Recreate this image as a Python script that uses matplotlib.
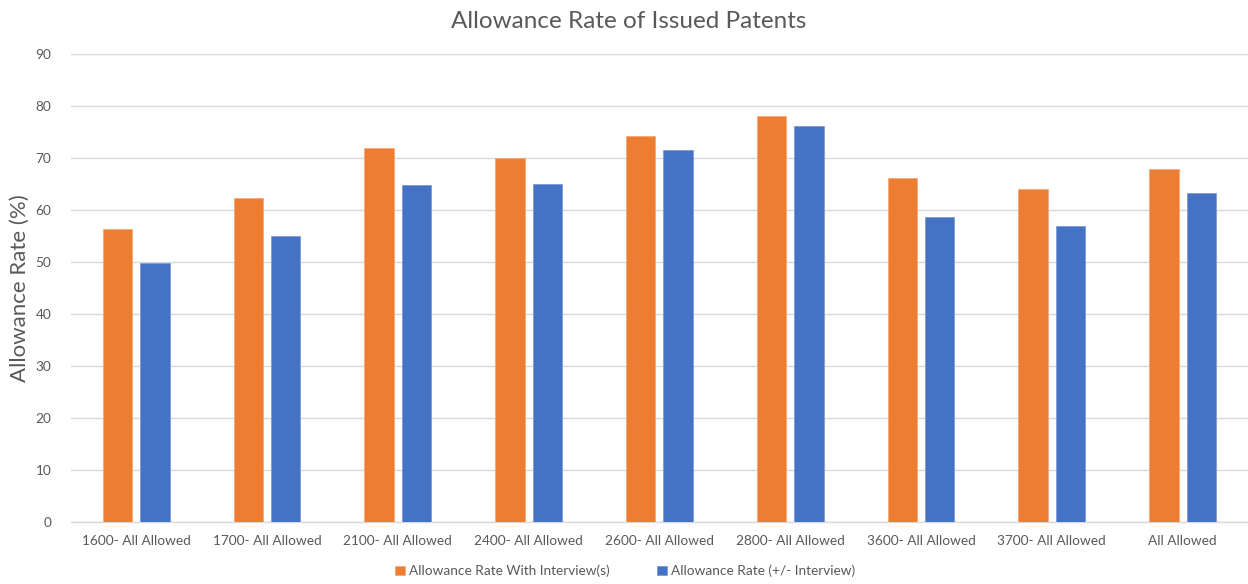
import numpy as np
import matplotlib
matplotlib.use("Agg")
import matplotlib.pyplot as plt

categories = ["1600- All Allowed", "1700- All Allowed", "2100- All Allowed",
              "2400- All Allowed", "2600- All Allowed", "2800- All Allowed",
              "3600- All Allowed", "3700- All Allowed", "All Allowed"]
with_interview = [56.4, 62.4, 72.0, 70.1, 74.2, 78.0, 66.1, 64.1, 67.9]
overall = [49.9, 55.0, 64.9, 65.1, 71.5, 76.1, 58.6, 57.0, 63.2]
series_names = ["Allowance Rate With Interview(s)", "Allowance Rate (+/- Interview)"]
yticks = list(range(0, 91, 10))

plt.rcParams["font.family"] = ["Lato", "DejaVu Sans"]
text_grey = "#595959"
orange = "#ED7D31"
blue = "#4472C4"

fig = plt.figure(figsize=(12.48, 5.84), dpi=100)
ax = fig.add_axes([0.0567, 0.106, 0.9433, 0.8015])

x = np.arange(len(categories))
w = 0.225
off = 0.143
ax.bar(x - off, with_interview, w, color=orange, edgecolor="#F4A87A", linewidth=0.6,
       label=series_names[0], zorder=3)
ax.bar(x + off, overall, w, color=blue, edgecolor="#7A9BD6", linewidth=0.6,
       label=series_names[1], zorder=3)

ax.set_xlim(-0.5, len(categories) - 0.5)
ax.set_ylim(0, 90)
ax.set_yticks(yticks)
ax.set_xticks(x)
ax.set_xticklabels(categories)
ax.grid(axis="y", color="#D9D9D9", linewidth=1.0, zorder=0)
for s in ["top", "right", "left"]:
    ax.spines[s].set_visible(False)
ax.spines["bottom"].set_color("#D9D9D9")
ax.spines["bottom"].set_linewidth(1.0)
ax.tick_params(axis="both", length=0, colors=text_grey, labelsize=9.8)
ax.tick_params(axis="x", pad=9)
ax.tick_params(axis="y", pad=14)

ax.set_ylabel("Allowance Rate (%)", fontsize=16, color=text_grey, labelpad=4)
fig.text(0.504, 0.963, "Allowance Rate of Issued Patents", ha="center", va="center",
         fontsize=17.5, color=text_grey)

fig.legend(*ax.get_legend_handles_labels(), loc="center",
           bbox_to_anchor=(0.501, 0.022), bbox_transform=fig.transFigure, ncol=2,
           frameon=False, fontsize=9.8, handlelength=0.7, handleheight=0.7,
           handletextpad=0.3, columnspacing=3.5, labelcolor=text_grey)

fig.savefig("out.png", dpi=100, facecolor="white")
